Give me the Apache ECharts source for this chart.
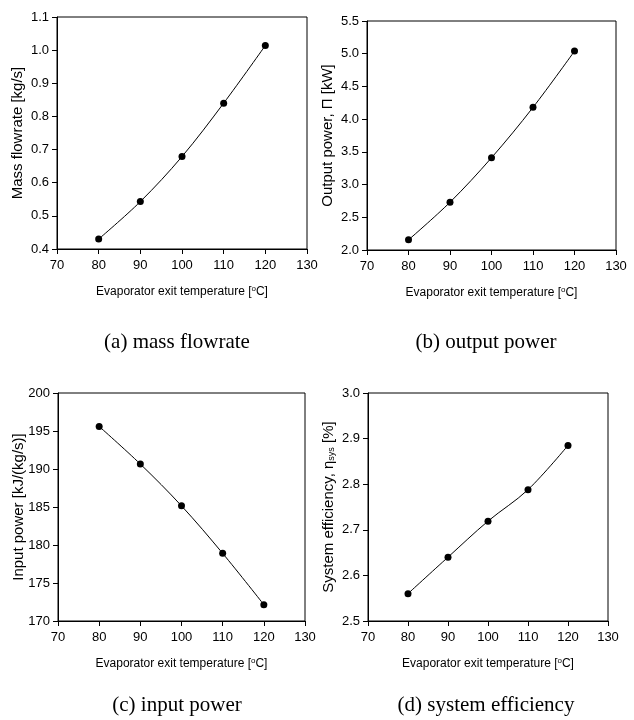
<!DOCTYPE html>
<html>
<head>
<meta charset="utf-8">
<script src="https://cdn.jsdelivr.net/npm/echarts@6/dist/echarts.min.js"></script>
<style>
  html, body { margin: 0; padding: 0; background: #fff; }
  #chart { width: 634px; height: 720px; }
</style>
</head>
<body>
<div id="chart"></div>
<script>
// evaporator exit temperature, shared by all four panels
const tempsC = [80, 90, 100, 110, 120]

const massFlow = [0.430, 0.543, 0.679, 0.840, 1.014]      // kg/s
const outputPower = [2.155, 2.73, 3.41, 4.18, 5.04]       // kW
const inputPower = [195.6, 190.65, 185.15, 178.9, 172.15] // kJ/(kg/s)
const sysEfficiency = [2.56, 2.64, 2.719, 2.788, 2.885]   // %

const captions = ['(a) mass flowrate', '(b) output power', '(c) input power', '(d) system efficiency']
const yNames = [
  'Mass flowrate [kg/s]',
  'Output power, \u03A0 [kW]',
  'Input power [kJ/(kg/s)]',
  'System efficiency, \u03B7{sub|sys} [%]'
]
const yRanges = [
  { min: 0.4, max: 1.1, interval: 0.1, digits: 1 },
  { min: 2.0, max: 5.5, interval: 0.5, digits: 1 },
  { min: 170, max: 200, interval: 5, digits: 0 },
  { min: 2.5, max: 3.0, interval: 0.1, digits: 1 }
]

const FONT = 'Liberation Sans, Arial, sans-serif'

const grids = [
  { left: 57, top: 17, width: 250, height: 232 },
  { left: 367, top: 21, width: 249, height: 229 },
  { left: 58, top: 393, width: 247, height: 228 },
  { left: 368, top: 393, width: 240, height: 228 }
]

const chart = echarts.init(document.getElementById('chart'))

const series = [massFlow, outputPower, inputPower, sysEfficiency]

const option = {
  animation: false,
  backgroundColor: '#fff',
  grid: grids.map(g => ({ ...g, show: true, borderColor: '#000', borderWidth: 1 })),
  xAxis: grids.map((g, i) => ({
    gridIndex: i,
    type: 'value',
    min: 70,
    max: 130,
    interval: 10,
    name: 'Evaporator exit temperature [{sup|o}C]',
    nameLocation: 'middle',
    nameGap: 36,
    nameTextStyle: {
      color: '#000',
      fontFamily: FONT,
      fontSize: 12,
      rich: {
        sup: { fontSize: 8, verticalAlign: 'top', padding: [0, 0, 6, 0], fontFamily: FONT, color: '#000' }
      }
    },
    axisLine: { lineStyle: { color: '#000', width: 1 } },
    axisTick: { show: true, inside: false, length: 5, lineStyle: { color: '#000' } },
    axisLabel: { color: '#000', fontFamily: FONT, fontSize: 13, margin: 10 },
    splitLine: { show: false }
  })),
  yAxis: grids.map((g, i) => ({
    gridIndex: i,
    type: 'value',
    min: yRanges[i].min,
    max: yRanges[i].max,
    interval: yRanges[i].interval,
    name: yNames[i],
    nameLocation: 'middle',
    nameGap: 32,
    nameMoveOverlap: false,
    nameRotate: 90,
    nameTextStyle: {
      color: '#000',
      fontFamily: FONT,
      fontSize: 15,
      rich: {
        sub: { fontSize: 9, verticalAlign: 'bottom', padding: [6, 0, 0, 0], fontFamily: FONT, color: '#000' }
      }
    },
    axisLine: { show: true, lineStyle: { color: '#000', width: 1 } },
    axisTick: { show: true, inside: false, length: 5, lineStyle: { color: '#000' } },
    axisLabel: {
      color: '#000',
      fontFamily: FONT,
      fontSize: 13,
      margin: 8,
      formatter: v => v.toFixed(yRanges[i].digits)
    },
    splitLine: { show: false }
  })),
  series: series.map((vals, i) => ({
    type: 'line',
    xAxisIndex: i,
    yAxisIndex: i,
    data: tempsC.map((t, k) => [t, vals[k]]),
    smooth: 0.35,
    symbol: 'circle',
    symbolSize: 7,
    lineStyle: { color: '#000', width: 1 },
    itemStyle: { color: '#000' }
  })),
  // sub-figure captions under each panel
  graphic: captions.map((c, i) => ({
    type: 'text',
    x: i % 2 === 0 ? 177 : 486,
    y: i < 2 ? 342 : 705,
    style: {
      text: c,
      fill: '#000',
      font: '21px "Liberation Serif", "Times New Roman", serif',
      textAlign: 'center',
      textVerticalAlign: 'middle'
    }
  }))
}

chart.setOption(option)
</script>
</body>
</html>
